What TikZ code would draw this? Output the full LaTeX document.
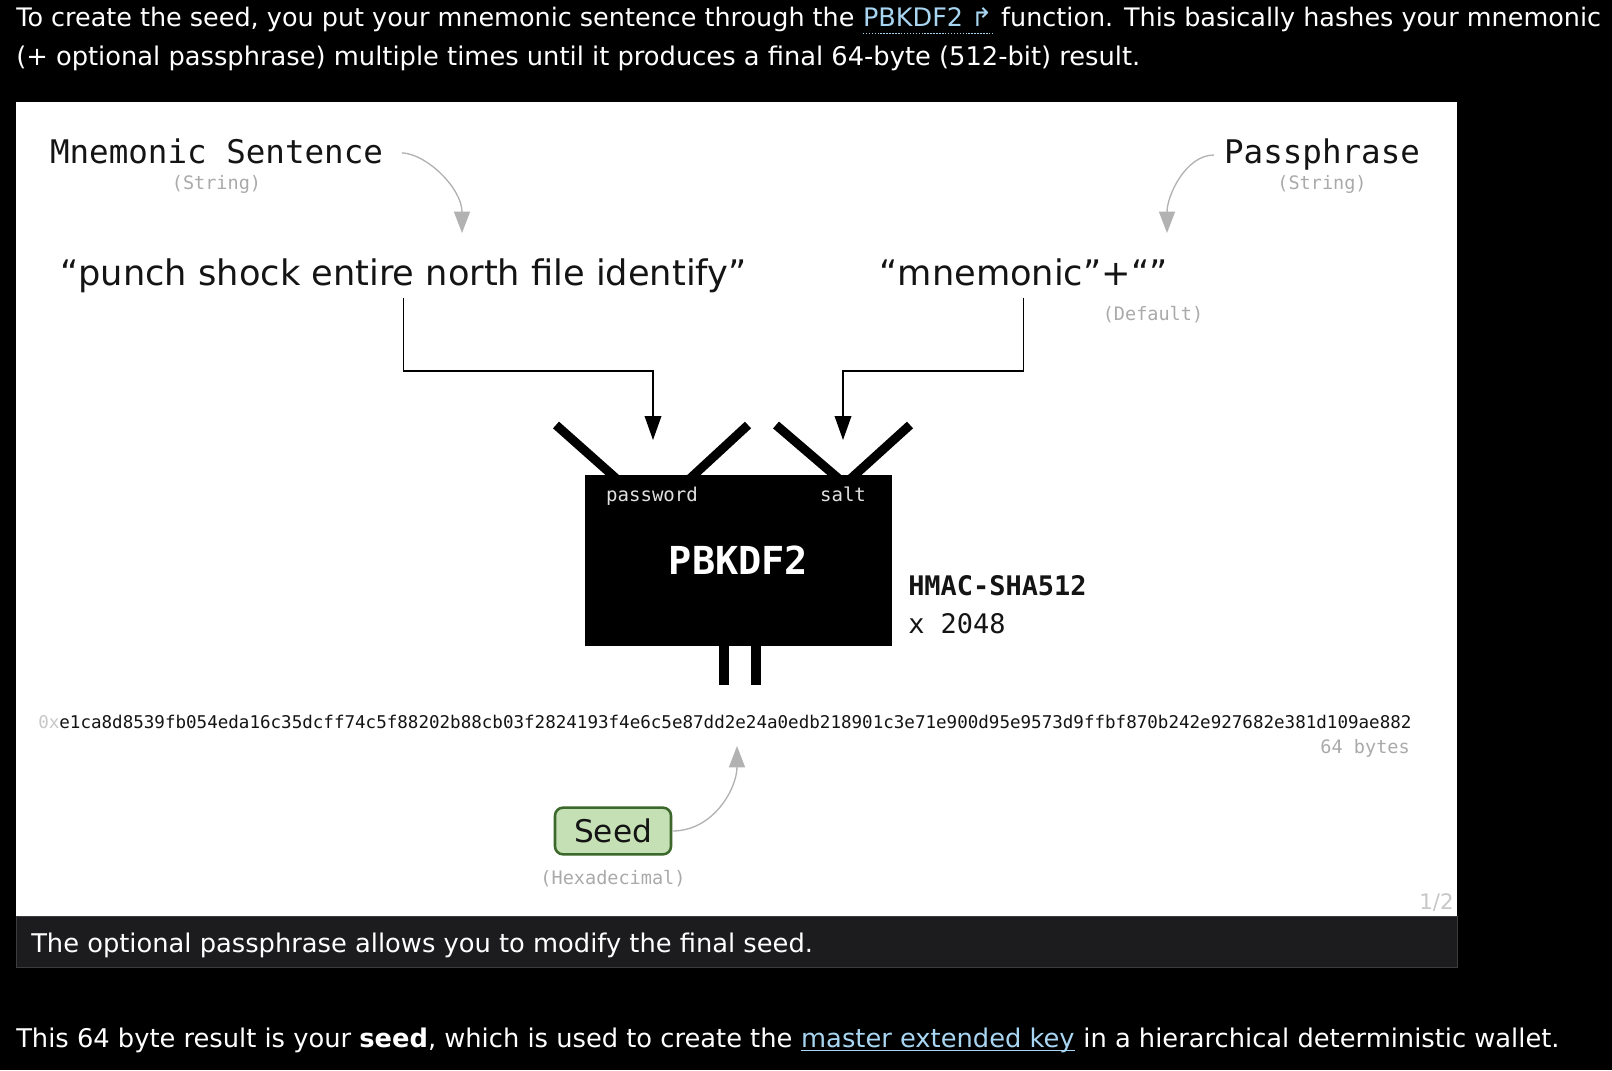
\documentclass[tikz,border=0pt]{standalone}
\usepackage{fontspec}
\setmainfont{DejaVu Sans}
\setmonofont{DejaVu Sans Mono}
\usetikzlibrary{arrows.meta,positioning}

\definecolor{linkblue}{RGB}{168,214,242}
\definecolor{capbar}{RGB}{28,28,30}
\definecolor{capedge}{RGB}{60,60,62}
\definecolor{hintgray}{RGB}{178,178,178}
\definecolor{typegray}{RGB}{170,170,170}
\definecolor{seedfill}{RGB}{197,224,180}
\definecolor{seededge}{RGB}{61,104,44}
\definecolor{inkblack}{RGB}{20,20,20}

\begin{document}
\begin{tikzpicture}[x=0.75pt,y=-0.75pt,node distance=20pt,on grid,
    pagetext/.style={font=\fontsize{19.3}{23}\selectfont,text=white,inner sep=0,anchor=base west},
    toptext/.style={pagetext,font=\fontsize{19.1}{23}\selectfont},
    linktext/.style={text=linkblue},
    heading/.style={font=\ttfamily\fontsize{24.4}{28}\selectfont,text=inkblack,inner sep=0,anchor=base},
    datatype/.style={font=\ttfamily\fontsize{13.9}{16}\selectfont,text=typegray,inner sep=0,anchor=base},
    phrase/.style={font=\fontsize{26.4}{30}\selectfont,text=inkblack,inner sep=0,anchor=base,text depth=0.25em},
    hint/.style={draw=hintgray,line width=1pt,-{Triangle[length=16pt,width=12pt]}},
    wire/.style={draw=black,line width=1.1pt,-{Triangle[length=18pt,width=12.5pt]}},
    funnel/.style={line width=6.75pt},
    pipe/.style={line width=7.5pt},
    kdfbox/.style={fill=black,minimum width=230.25pt,minimum height=128.25pt,inner sep=0},
    port/.style={font=\ttfamily\fontsize{14.3}{16}\selectfont,text=black!12,inner sep=0,anchor=base},
    note/.style={font=\ttfamily\bfseries\fontsize{20.2}{24}\selectfont,text=inkblack,inner sep=0,anchor=base west},
    seedbox/.style={fill=seedfill,draw=seededge,line width=1.9pt,rounded corners=6pt,minimum width=87pt,minimum height=35pt,inner sep=0,font=\fontsize{23.4}{28}\selectfont,text=inkblack}]

    % page around the slide
    \fill[black] (0,0) rectangle (1612,1070);
    \useasboundingbox (0,0) rectangle (1612,1070);
    \fill[white] (16,102) rectangle (1457,916);
    \filldraw[fill=capbar,draw=capedge,line width=0.75pt] (16,916) rectangle (1457,967);

    \node[toptext] (intro1) at (16,27) {To create the seed, you put your mnemonic sentence through the};
    \node[toptext,linktext] (pbkdflink) at ([xshift=6.07pt]intro1.base east) {PBKDF2 ↱};
    \node[toptext] (intro1b) at ([xshift=6.07pt]pbkdflink.base east) {function. This basically hashes your mnemonic};
    \draw[linkblue,line width=0.9pt,dash pattern=on 1.1pt off 1.1pt] ([yshift=-5pt]pbkdflink.base west) -- ([yshift=-5pt]pbkdflink.base east);
    \node[pagetext] (intro2) at (16,65.5) {(+ optional passphrase) multiple times until it produces a final 64-byte (512-bit) result.};
    \node[pagetext] (caption) at (31,952) {The optional passphrase allows you to modify the final seed.};
    \node[pagetext] (outro) at (16,1047) {This 64 byte result is your \textbf{seed}, which is used to create the};
    \node[pagetext,linktext] (masterlink) at ([xshift=6.14pt]outro.base east) {master extended key};
    \node[pagetext] (outrob) at ([xshift=6.14pt]masterlink.base east) {in a hierarchical deterministic wallet.};
    \draw[linkblue,line width=1pt] ([yshift=-2.5pt]masterlink.base west) -- ([yshift=-2.5pt]masterlink.base east);
    \node[font=\fontsize{16}{18}\selectfont,text=black!22,inner sep=0,anchor=base east] (page) at (1454,909) {1/2};

    % inputs
    \node[heading] (mnem) at (216.5,164) {Mnemonic Sentence};
    \node[datatype] (mnemtype) [below=19.5pt of mnem.base,anchor=base] {(String)};
    \node[heading] (pass) at (1322,164) {Passphrase};
    \node[datatype] (passtype) [below=19.5pt of pass.base,anchor=base] {(String)};

    \node[phrase] (sentence) at (403.5,285) {“punch shock entire north file identify”};
    \node[phrase] (saltstr) at (1023.5,285) {“mnemonic”+“”};
    \node[datatype] (default) at (1153,320) {(Default)};

    \coordinate (mnemtip) at (462,233);
    \coordinate (passtip) at (1167,233);
    \draw[hint,shorten <=14pt] (mnem.east) to[out=-3,in=90] (mnemtip);
    \draw[hint,shorten <=7.5pt] (pass.west) to[out=180,in=90] (passtip);

    % pbkdf2 box
    \coordinate (bus) at (0,371);
    \coordinate (pwin) at (653,440);
    \coordinate (saltin) at (843,440);
    \draw[wire,shorten <=6.75pt] (sentence.south) -- (sentence.south |- bus) -| (pwin);
    \draw[wire,shorten <=6.75pt] (saltstr.south) -- (saltstr.south |- bus) -| (saltin);

    \foreach \ax/\ay/\bx in {556/425/623.5, 748/425/683, 776/425/846, 910/425/843.75}
        \draw[funnel] (\ax,\ay) -- (\bx,485);
    \draw[pipe] (724,640) -- (724,685);
    \draw[pipe] (756,640) -- (756,685);

    \node[kdfbox,text=white,font=\ttfamily\bfseries\fontsize{28.9}{34}\selectfont] (kdf) at (738.5,560.5) {PBKDF2};
    \node[port] (pwlabel) at (652,501) {password};
    \node[port] (saltlabel) at (843,501) {salt};
    \node[note] (hmac) at (908,595) {HMAC-SHA512};
    \node[note,font=\ttfamily\fontsize{20.2}{24}\selectfont] (rounds) at (908,633) {x 2048};

    % output
    \node[font=\ttfamily\fontsize{13.16}{15}\selectfont,text=inkblack,inner sep=0,anchor=base west] (hex) at (38,728) {\textcolor{black!22}{0x}e1ca8d8539fb054eda16c35dcff74c5f88202b88cb03f2824193f4e6c5e87dd2e24a0edb218901c3e71e900d95e9573d9ffbf870b242e927682e381d109ae882};
    \node[datatype,anchor=base east] (bytes) at (1410,753) {64 bytes};

    \node[seedbox] (seed) at (613,831) {Seed};
    \node[datatype] (seedtype) [below=36pt of seed] {(Hexadecimal)};
    \coordinate (seedtip) at (737,746);
    \draw[hint,line width=1pt] (seed.east) to[out=0,in=-90] (seedtip);
\end{tikzpicture}
\end{document}
